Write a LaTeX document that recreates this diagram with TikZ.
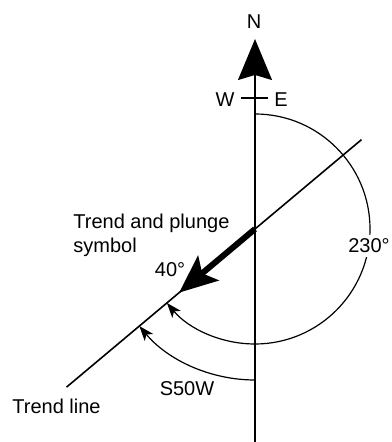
\documentclass[tikz,border=0pt]{standalone}
\usepackage{fontspec}
\setmainfont{Liberation Sans}
\usetikzlibrary{arrows.meta,calc}

\begin{document}
\begin{tikzpicture}[
  x=0.5pt, y=0.5pt,
  font=\fontsize{10}{12}\selectfont,
  >={Stealth[length=7.5pt, width=5.5pt, inset=2pt]},
  axis/.style={line width=0.8pt},
  arcline/.style={->, line width=0.6pt},
  plunge/.style={-{Stealth[length=19pt, width=16pt, inset=4pt]}, line width=3pt},
  lbl/.style={inner sep=0pt}
]
\useasboundingbox (0,0) rectangle (391,442);

% centre of the arcs and ends of the lines
\coordinate (O) at (255,213);
\coordinate (S) at (255,0);
\coordinate (Ntip) at (255,403);
\coordinate (Wt) at (241,344);
\coordinate (Et) at (268,344);
\coordinate (TL1) at ($(O)+(220:246)$);
\coordinate (TL2) at ($(O)+(40:139)$);

% north line and W-E tick
\draw[axis, -{Stealth[length=20.5pt, width=17pt, inset=2.5pt]}] (S) -- (Ntip);
\draw[axis] (Wt) -- (Et);
\node[lbl] (N) at (254,420) {N};
\node[lbl] (W) at (225,342) {W};
\node[lbl] (E) at (281,342) {E};

% trend line and trend and plunge symbol
\draw[axis] (TL1) -- (TL2);
\draw[plunge] (O) -- ($(O)+(220:99)$);

% azimuth arcs
\draw[arcline] ($(O)+(90:115)$) arc[start angle=90, end angle=-140, radius=57.5pt];
\draw[arcline] ($(O)+(-90:151)$) arc[start angle=-90, end angle=-140, radius=75.5pt];

% labels
\node[lbl, fill=white, inner sep=2pt] (az) at (369,196) {230°};
\node[lbl] (dip) at (170,172) {40°};
\node[lbl] (quad) at (187,53) {S50W};
\node[lbl, anchor=west] (tl) at (12,36) {Trend line};
\node[lbl, anchor=west, align=left] (tp) at (73,207) {Trend and plunge\\symbol};

\end{tikzpicture}
\end{document}
